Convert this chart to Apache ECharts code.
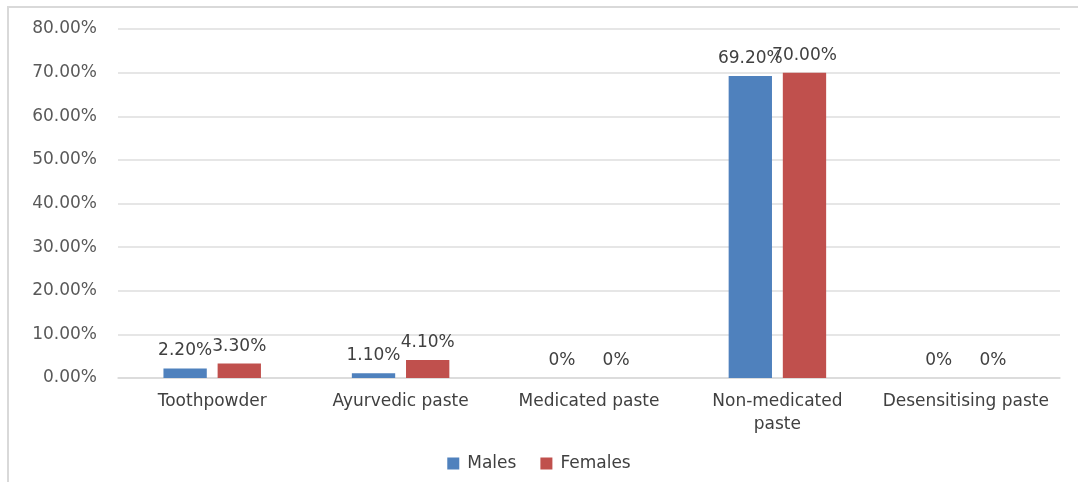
<!DOCTYPE html>
<html>
<head>
<meta charset="utf-8">
<style>
  html, body { margin: 0; padding: 0; background: #ffffff; }
  #frame {
    position: absolute; left: 7px; top: 6px; width: 1071px; height: 476px;
    border-left: 2px solid #d9d9d9; border-top: 2px solid #d9d9d9;
    box-sizing: border-box;
  }
  #chart { position: absolute; left: 0; top: 0; width: 1078px; height: 482px; }
</style>
<script src="https://cdn.jsdelivr.net/npm/echarts@6/dist/echarts.min.js"></script>
</head>
<body>
<div id="frame"></div>
<div id="chart"></div>
<script>
// Toothpaste / toothpowder usage by gender (percent of respondents)
const categories = ['Toothpowder', 'Ayurvedic paste', 'Medicated paste', 'Non-medicated\npaste', 'Desensitising paste'];
const males = [2.2, 1.1, 0, 69.2, 0];
const females = [3.3, 4.1, 0, 70.0, 0];
const maleLabels = ['2.20%', '1.10%', '0%', '69.20%', '0%'];
const femaleLabels = ['3.30%', '4.10%', '0%', '70.00%', '0%'];

const chart = echarts.init(document.getElementById('chart'), null, { renderer: 'canvas' });

const FONT = 'DejaVu Sans';

const labelStyle = (texts) => ({
  show: true,
  position: 'top',
  distance: 9,
  color: '#404040',
  fontFamily: FONT,
  fontSize: 17,
  formatter: (p) => texts[p.dataIndex]
});

chart.setOption({
  animation: false,
  grid: { left: 118, right: 18, top: 29, bottom: 104 },
  legend: {
    bottom: 5,
    left: 'center',
    itemWidth: 12,
    itemHeight: 12,
    itemGap: 24,
    icon: 'rect',
    textStyle: { color: '#404040', fontFamily: FONT, fontSize: 17, padding: [0, 0, 0, 3] },
    data: ['Males', 'Females']
  },
  xAxis: {
    type: 'category',
    data: categories,
    axisLine: { lineStyle: { color: '#d9d9d9', width: 1.5 } },
    axisTick: { show: false },
    axisLabel: {
      color: '#404040',
      fontFamily: FONT,
      fontSize: 17,
      lineHeight: 23,
      margin: 12,
      interval: 0
    }
  },
  yAxis: {
    type: 'value',
    min: 0,
    max: 80,
    interval: 10,
    axisLine: { show: false },
    axisTick: { show: false },
    splitLine: { lineStyle: { color: '#dedede', width: 1.5 } },
    axisLabel: {
      color: '#595959',
      fontFamily: FONT,
      fontSize: 17,
      margin: 21,
      formatter: (v) => v.toFixed(2) + '%'
    }
  },
  series: [
    {
      name: 'Males',
      type: 'bar',
      data: males,
      barWidth: '23%',
      barGap: '25%',
      itemStyle: { color: '#4f81bd' },
      label: labelStyle(maleLabels)
    },
    {
      name: 'Females',
      type: 'bar',
      data: females,
      barWidth: '23%',
      itemStyle: { color: '#c0504d' },
      label: labelStyle(femaleLabels)
    }
  ]
});
</script>
</body>
</html>
